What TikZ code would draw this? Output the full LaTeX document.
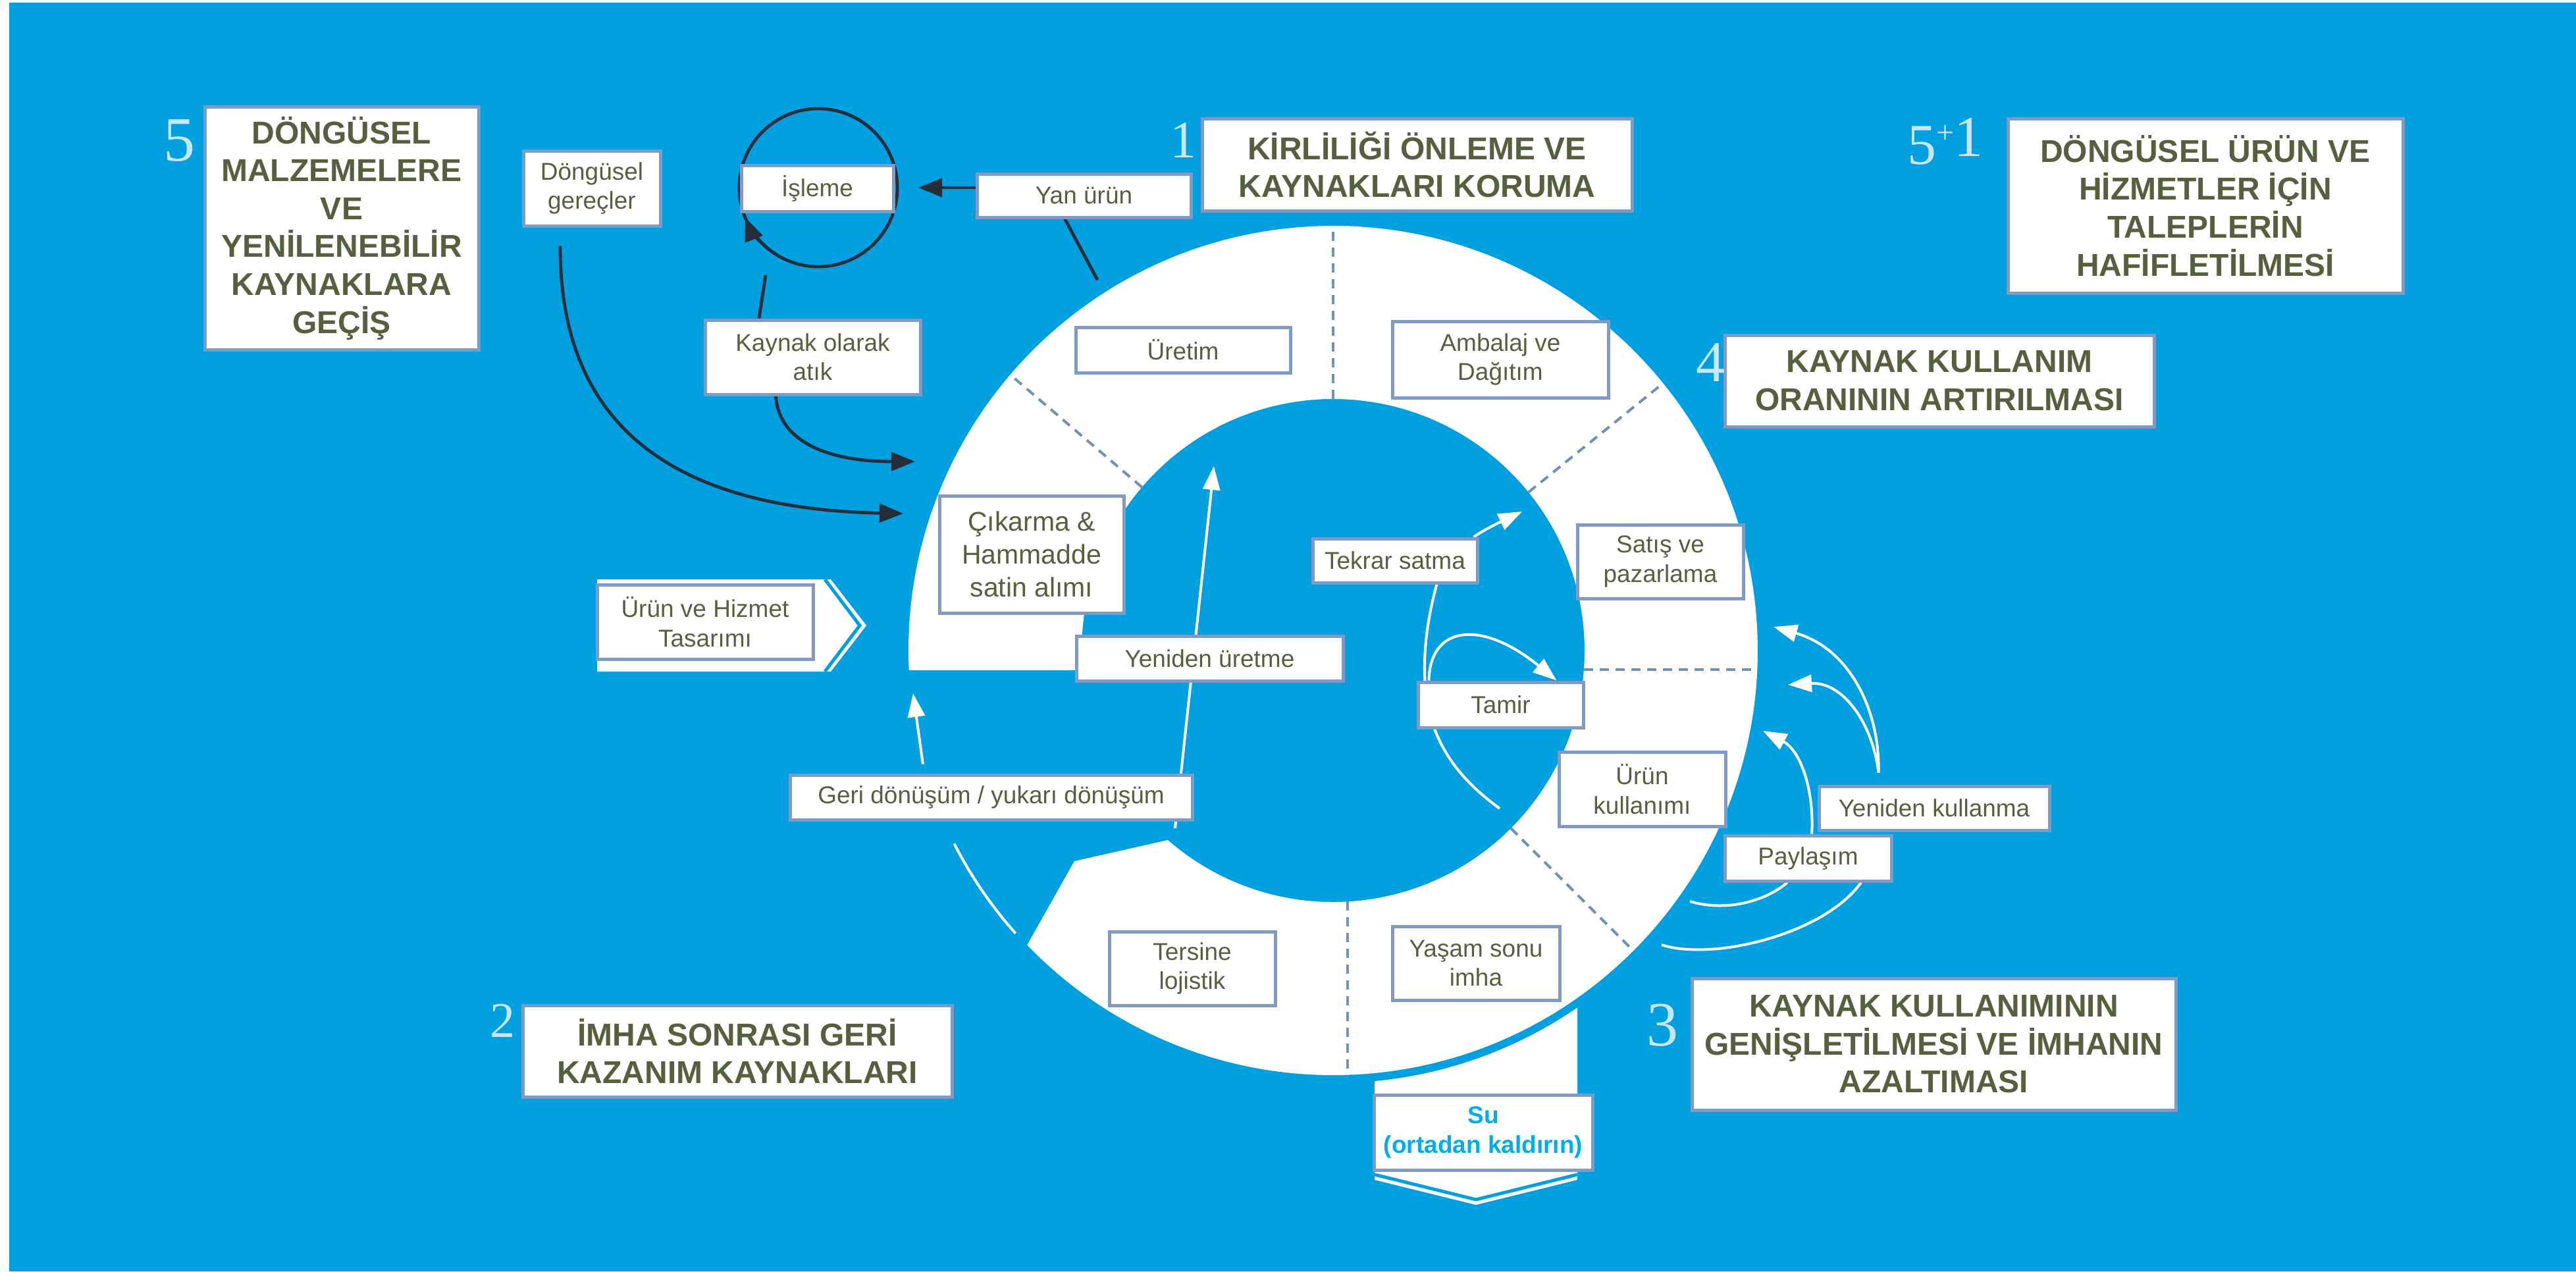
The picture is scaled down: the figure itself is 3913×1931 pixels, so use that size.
\documentclass[tikz,border=0pt]{standalone}
\usepackage{fontspec}
\setmainfont{Liberation Sans}
\newfontfamily\numfont{Liberation Serif}
\usetikzlibrary{arrows.meta}
\definecolor{bgblue}{RGB}{0,159,224}
\definecolor{olive}{RGB}{86,96,63}
\definecolor{bord}{RGB}{128,154,200}
\definecolor{dashc}{RGB}{110,145,180}
\definecolor{darkln}{RGB}{38,44,56}
\definecolor{numc}{RGB}{200,230,245}
\definecolor{sublue}{RGB}{0,172,236}
\pgfdeclarelayer{back}
\pgfdeclarelayer{conn}
\pgfsetlayers{back,conn,main}
\tikzset{
  box/.style={draw=bord, line width=1.25pt, fill=white, inner sep=0pt, align=center, text=olive, font=\fontsize{9.25}{11.1}\selectfont},
  head/.style={box, font=\bfseries\fontsize{12}{14.4}\selectfont},
  num/.style={text=numc, inner sep=0pt},
  darkline/.style={draw=darkln, line width=1.2pt},
  darkarrow/.style={darkline, -{Triangle[length=9pt,width=7pt]}},
  whiteline/.style={draw=white, line width=1pt},
  whitearrow/.style={whiteline, -{Triangle[length=9pt,width=6.5pt]}},
  divider/.style={draw=dashc, line width=1pt, dash pattern=on 3.5pt off 2.5pt},
}
\begin{document}
\begin{tikzpicture}[x=0.25pt,y=-0.25pt]
\useasboundingbox (0,0) rectangle (3913,1931);

% ---------- boxes ----------
\node[head, minimum width=104pt, minimum height=92.25pt] (b5) at (519,346.5) {DÖNGÜSEL\\MALZEMELERE\\VE\\YENİLENEBİLİR\\KAYNAKLARA\\GEÇİŞ};
\node[box, minimum width=52pt, minimum height=28.5pt] (dong) at (899,286) {Döngüsel\\gereçler};
\node[box, minimum width=57.75pt, minimum height=17.5pt] (isl) at (1241.5,286) {İşleme};
\node[box, minimum width=81.25pt, minimum height=16.5pt] (yan) at (1646.5,297) {Yan ürün};
\node[head, minimum width=163.25pt, minimum height=35pt] (b1) at (2152.5,250) {KİRLİLİĞİ ÖNLEME VE\\KAYNAKLARI KORUMA};
\node[head, minimum width=150pt, minimum height=66.25pt] (b51) at (3350,312.5) {DÖNGÜSEL ÜRÜN VE\\HİZMETLER İÇİN\\TALEPLERİN\\HAFİFLETİLMESİ};
\node[head, minimum width=163pt, minimum height=34.75pt] (b4) at (2946,578.5) {KAYNAK KULLANIM\\ORANININ ARTIRILMASI};
\node[box, minimum width=81.5pt, minimum height=17.25pt] (uret) at (1797,531.5) {Üretim};
\node[box, minimum width=82pt, minimum height=29pt] (amb) at (2279,546) {Ambalaj ve\\Dağıtım};
\node[box, minimum width=70pt, minimum height=44.5pt, font=\fontsize{10.25}{12.5}\selectfont] (cik) at (1567,842) {Çıkarma \&\\Hammadde\\satin alımı};
\node[box, minimum width=82pt, minimum height=28.25pt] (tas) at (1071,944.5) {Ürün ve Hizmet\\Tasarımı};
\node[box, minimum width=101.25pt, minimum height=17pt] (yur) at (1837.5,1000) {Yeniden üretme};
\node[box, minimum width=62.5pt, minimum height=16.75pt] (tek) at (2119,851.5) {Tekrar satma};
\node[box, minimum width=63pt, minimum height=28pt] (sat) at (2522,853) {Satış ve\\pazarlama};
\node[box, minimum width=62.75pt, minimum height=17.25pt] (tam) at (2279.5,1070.5) {Tamir};
\node[box, minimum width=63.25pt, minimum height=28.25pt] (kul) at (2494.5,1198.5) {Ürün\\kullanımı};
\node[box, minimum width=87.5pt, minimum height=16.75pt] (ykul) at (2938,1227.5) {Yeniden kullanma};
\node[box, minimum width=63.25pt, minimum height=17.25pt] (pay) at (2746.5,1303.5) {Paylaşım};
\node[box, minimum width=152.75pt, minimum height=17pt] (geri) at (1505.5,1211) {Geri dönüşüm / yukarı dönüşüm};
\node[box, minimum width=63pt, minimum height=28pt] (ters) at (1811,1471) {Tersine\\lojistik};
\node[box, minimum width=63.5pt, minimum height=28pt] (yas) at (2242,1463) {Yaşam sonu\\imha};
\node[box, minimum width=83pt, minimum height=28.5pt, text=sublue, font=\bfseries\fontsize{9.25}{11.1}\selectfont] (su) at (2253,1720) {Su\\(ortadan kaldırın)};
\node[head, minimum width=163pt, minimum height=34.75pt] (b2) at (1120,1596.5) {İMHA SONRASI GERİ\\KAZANIM KAYNAKLARI};
\node[head, minimum width=183.75pt, minimum height=50pt] (b3) at (2937.5,1586) {KAYNAK KULLANIMININ\\GENİŞLETİLMESİ VE İMHANIN\\AZALTIMASI};
\node[box, minimum width=81.75pt, minimum height=28.25pt] (kay) at (1234.5,542.5) {Kaynak olarak\\atık};

% ---------- numbers ----------
\node[num, font=\numfont\fontsize{24}{24}\selectfont] (n5) at (272,214) {5};
\node[num, font=\numfont\fontsize{20}{20}\selectfont] (n1) at (1797,213) {1};
\node[num, font=\numfont\fontsize{22}{22}\selectfont, anchor=west] (n51) at (2897,215) {5\raisebox{8pt}{\fontsize{12}{12}\selectfont+}\raisebox{3pt}{1}};
\node[num, font=\numfont\fontsize{22}{22}\selectfont] (n4) at (2598,551) {4};
\node[num, font=\numfont\fontsize{19}{19}\selectfont] (n2) at (763,1550) {2};
\node[num, font=\numfont\fontsize{24}{24}\selectfont] (n3) at (2525,1557) {3};

% ---------- background, ring ----------
\begin{pgfonlayer}{back}
\fill[white] (0,0) rectangle (3913,1931);
\fill[bgblue] (14,4) rectangle (3913,1931);
\coordinate (C) at (2025,988);
% Su strip
\fill[white] (2088,1500) -- (2396,1500) -- (2396,1792) -- (2242,1830) -- (2088,1792) -- cycle;
\draw[bgblue, line width=1.25pt] (2088,1784) -- (2242,1822) -- (2396,1784);
\fill[bgblue] (C) circle[radius=657];
% ring
\fill[white] ([shift={(177.33:645)}]C) arc[start angle=177.33, end angle=496.1, radius=645]
  -- (1632,1308) -- ([shift={(131.1:382)}]C) arc[start angle=491.1, end angle=175.5, radius=382] -- cycle;
% chevron of design box
\fill[white] (907,880) -- (1262,880) -- (1316,950) -- (1262,1020) -- (907,1020) -- cycle;
\draw[bgblue, line width=1.25pt] (1253,880) -- (1306,950) -- (1253,1020);
% dividers
\draw[divider] ([shift={(270:382)}]C) -- ([shift={(270:645)}]C);
\draw[divider] ([shift={(220.5:382)}]C) -- ([shift={(220.5:645)}]C);
\draw[divider] ([shift={(321:382)}]C) -- ([shift={(321:645)}]C);
\draw[divider] ([shift={(45:382)}]C) -- ([shift={(45:645)}]C);
\draw[divider] (2406,1017) -- (2669,1017);
\draw[divider] (2047,1369) -- (2047,1633);
\end{pgfonlayer}

% ---------- connectors ----------
\begin{pgfonlayer}{conn}
\coordinate (islc) at (1243,285);
\coordinate (yantip) at (1395,285);
\coordinate (yanend) at (1667,425);
\coordinate (katop) at (1163,418);
\coordinate (tipA) at (1390,701);
\coordinate (tipB) at (1372,780);
\coordinate (ystart) at (1785,1258);
\coordinate (ytip) at (1844,708);
\coordinate (tipC) at (1387,1053);
\coordinate (tektip) at (2312,777);
\coordinate (tekend) at (2278,1228);
\coordinate (rtip1) at (2694,952);
\coordinate (rtip2) at (2716,1040);
\coordinate (rtip3) at (2678,1110);
\coordinate (arcA) at (2567,1369);
\coordinate (arcB) at (2524,1435);

% dark connectors
\draw[darkline] (islc) circle[radius=120];
\draw[darkarrow] ([shift={(128:120)}]islc) arc[start angle=128, end angle=158, radius=120];
\draw[darkarrow] ([yshift=3pt]yan.west) -- (yantip);
\draw[darkline] ([xshift=34pt]yan.south west) -- (yanend);
\draw[darkline] ([xshift=-20.4pt]kay.north) -- (katop);
\draw[darkarrow] ([xshift=-14pt]kay.south) .. controls (1183,672) and (1260,701) .. (tipA);
\draw[darkarrow] ([xshift=-12pt,yshift=-7pt]dong.south) .. controls (850,620) and (990,772) .. (tipB);

% white connectors
\draw[whitearrow] (ystart) -- (ytip);
\draw[whitearrow] ([xshift=-25.9pt,yshift=3.5pt]geri.north) -- (tipC);
\draw[whiteline] ([shift={(153:646)}]C) arc[start angle=153, end angle=138.3, radius=646];
\draw[whitearrow] ([xshift=-2pt]tek.north east) .. controls (2262,800) and (2285,790) .. (tektip);
\draw[whiteline] ([xshift=47.75pt]tek.south west) .. controls (2165,950) and (2155,1030) .. (2175,1095) .. controls (2195,1160) and (2240,1200) .. (tekend);
\draw[whitearrow] ([xshift=4.75pt]tam.north west) .. controls (2172,950) and (2250,940) .. ([xshift=-10.75pt]tam.north east);
\draw[whitearrow] ([xshift=23.25pt,yshift=4.5pt]ykul.north west) .. controls (2856,1080) and (2810,985) .. (rtip1);
\draw[whitearrow] ([xshift=23.25pt,yshift=4.5pt]ykul.north west) .. controls (2845,1100) and (2800,1035) .. (rtip2);
\draw[whitearrow] ([xshift=1.4pt]pay.north) .. controls (2756,1200) and (2735,1140) .. (rtip3);
\draw[whiteline] (arcA) .. controls (2620,1385) and (2680,1370) .. ([xshift=-7.9pt]pay.south);
\draw[whiteline] (arcB) .. controls (2600,1460) and (2770,1420) .. ([xshift=20.1pt]pay.south);
\end{pgfonlayer}
\end{tikzpicture}
\end{document}
